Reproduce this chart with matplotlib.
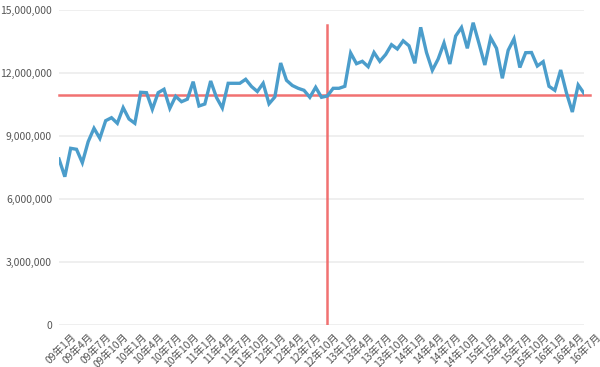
import numpy as np
import matplotlib.pyplot as plt
import matplotlib.transforms as mtransforms

plt.rcParams['font.family'] = ['Noto Sans CJK JP', 'DejaVu Sans']

# 月別の値 (09年1月 - 16年7月)
months = ['%02d年%d月' % (y, m) for y in range(9, 17) for m in range(1, 13)][:91]
values = [7905000, 7062000, 8414000, 8367000, 7729000, 8729000, 9367000, 8890000,
          9729000, 9871000, 9605000, 10348000, 9810000, 9605000, 11081000, 11062000,
          10271000, 11062000, 11224000, 10319000, 10890000, 10633000, 10752000, 11586000,
          10429000, 10524000, 11619000, 10833000, 10333000, 11510000, 11510000, 11510000,
          11700000, 11357000, 11119000, 11510000, 10533000, 10857000, 12476000, 11652000,
          11405000, 11271000, 11176000, 10843000, 11319000, 10843000, 10905000, 11271000,
          11271000, 11367000, 12952000, 12443000, 12557000, 12300000, 12976000, 12557000,
          12881000, 13348000, 13143000, 13533000, 13295000, 12462000, 14176000, 12976000,
          12129000, 12667000, 13429000, 12429000, 13762000, 14167000, 13176000, 14395000,
          13405000, 12381000, 13676000, 13176000, 11748000, 13081000, 13629000, 12262000,
          12967000, 12976000, 12333000, 12538000, 11367000, 11176000, 12143000, 11048000,
          10143000, 11429000, 11033000]
average = 10950000
split_month = '12年11月'
split_top = 14300000

yticks = [0, 3000000, 6000000, 9000000, 12000000, 15000000]

fig = plt.figure(figsize=(6, 3.67), dpi=100)
ax = fig.add_axes([59 / 600, 1 - 325 / 367, 525 / 600, 315 / 367])

x = np.arange(len(values))
for t in yticks[1:]:
    ax.axhline(t, color='#ececec', lw=1.2, zorder=0)
ax.axhline(0, color='#b0b0b0', lw=1.0, zorder=0)

ax.axhline(average, xmin=0, xmax=1.012, color='#f06262', lw=1.8, alpha=0.9,
           zorder=2, clip_on=False)
xs = months.index(split_month)
ax.plot([xs, xs], [0, split_top], color='#f06262', lw=1.8, alpha=0.9, zorder=2)

ax.plot(x, values, color='#4b9dcb', lw=2.4, zorder=3, solid_joinstyle='miter')

ax.set_xlim(0, len(values) - 1)
ax.set_ylim(0, 15000000)
ax.set_yticks(yticks)
ax.set_yticklabels(['{:,}'.format(t) for t in yticks], fontsize=7.5, color='#555555')
ax.set_xticks(x[::3])
ax.set_xticklabels(months[::3], rotation=45, ha='right', va='top',
                   rotation_mode='anchor', fontsize=7.5, color='#555555')
ax.tick_params(length=0, pad=5)
shift = mtransforms.ScaledTranslation(0.12, 0, fig.dpi_scale_trans)
for lab in ax.get_xticklabels():
    lab.set_transform(lab.get_transform() + shift)
for s in ax.spines.values():
    s.set_visible(False)

fig.savefig('out.png', dpi=100)
